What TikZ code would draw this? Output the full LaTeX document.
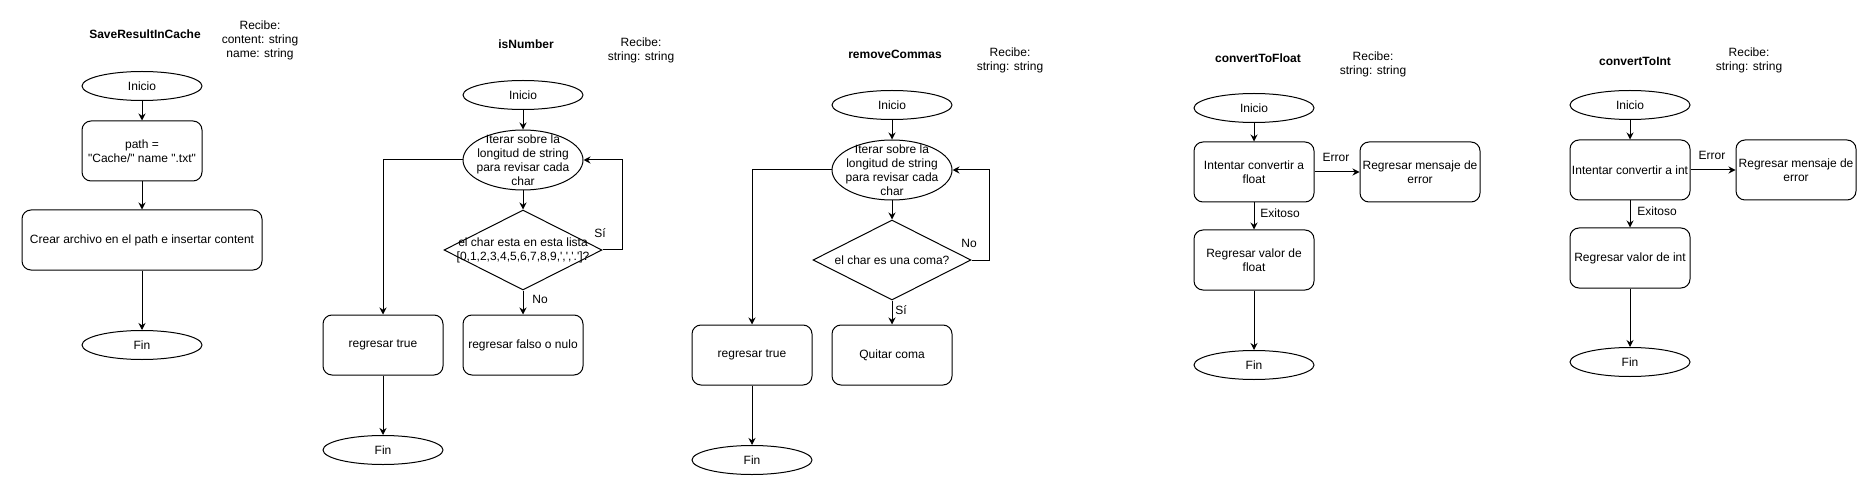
\documentclass[tikz,border=0pt]{standalone}
\usepackage{fontspec}
\setmainfont{Liberation Sans}
\usetikzlibrary{shapes.geometric,arrows.meta}

\begin{document}
\begin{tikzpicture}[x=1pt,y=-1pt,line width=1pt,
        font=\fontsize{12}{14}\selectfont,
        every node/.style={align=center},
        caja/.style={draw,rounded corners=9pt,minimum width=120pt,minimum height=60pt,inner sep=0pt},
        elipse/.style={draw,ellipse,minimum width=120pt,minimum height=29pt,inner sep=0pt},
        ciclo/.style={draw,ellipse,minimum width=120pt,minimum height=60pt,inner sep=0pt},
        decision/.style={draw,diamond,minimum width=158pt,minimum height=80pt,inner sep=0pt},
        titulo/.style={font=\fontsize{12}{14}\selectfont\bfseries},
        flecha/.style={-{Stealth[length=7pt,width=7pt]}}]
        \useasboundingbox (0,0) rectangle (1867,486);
        \node[titulo] (tituloA) at (145,34) {SaveResultInCache};
        \node (recibeA) at (260,40) {Recibe:\\content: string\\name: string};
        \node[elipse] (inicioA) at (142,86) {Inicio};
        \node[caja] (pathA) at (142,151) {path =\\\textquotedbl Cache/\textquotedbl\ name \textquotedbl.txt\textquotedbl};
        \node[caja,minimum width=240pt] (crearA) at (142,240) {Crear archivo en el path e insertar content};
        \node[elipse] (finA) at (142,345) {Fin};
        \draw[flecha] (inicioA)--(pathA);
        \draw[flecha] (pathA)--(crearA);
        \draw[flecha] (crearA)--(finA);
        \node[titulo] (tituloB) at (526,44) {isNumber};
        \node (recibeB) at (641,50) {Recibe:\\string: string};
        \node[elipse] (inicioB) at (523,95) {Inicio};
        \node[ciclo,label={center:{Iterar sobre la\\longitud de string\\para revisar cada\\char}}] (iterB) at (523,160) {};
        \node[decision,label={center:{el char esta en esta lista\\{[}0,1,2,3,4,5,6,7,8,9,\textquotesingle,\textquotesingle,\textquotesingle.\textquotesingle]?}}] (decB) at (523,250) {};
        \node[caja] (trueB) at (383,345) {regresar true};
        \node[caja] (falsoB) at (523,345) {regresar falso o nulo};
        \node[elipse] (finB) at (383,450) {Fin};
        \node (siB) at (600,233) {Sí};
        \node (noB) at (540,299) {No};
        \draw[flecha] (inicioB)--(iterB);
        \draw[flecha] (iterB)--(decB);
        \draw[flecha] (decB.east)--++(20,0)|-(iterB.east);
        \draw[flecha] (iterB.west)-|(trueB.north);
        \draw[flecha] (decB.south)--(falsoB.north);
        \draw[flecha] (trueB)--(finB);
        \node[titulo] (tituloC) at (895,54) {removeCommas};
        \node (recibeC) at (1010,60) {Recibe:\\string: string};
        \node[elipse] (inicioC) at (892,105) {Inicio};
        \node[ciclo,label={center:{Iterar sobre la\\longitud de string\\para revisar cada\\char}}] (iterC) at (892,170) {};
        \node[decision,label={center:{el char es una coma?}}] (decC) at (892,260) {};
        \node[caja] (trueC) at (752,355) {regresar true};
        \node[caja] (quitarC) at (892,355) {Quitar coma};
        \node[elipse] (finC) at (752,460) {Fin};
        \node (noC) at (969,243) {No};
        \node (siC) at (901,310) {Sí};
        \draw[flecha] (inicioC)--(iterC);
        \draw[flecha] (iterC)--(decC);
        \draw[flecha] (decC.east)--++(18,0)|-(iterC.east);
        \draw[flecha] (iterC.west)-|(trueC.north);
        \draw[flecha] (decC.south)--(quitarC.north);
        \draw[flecha] (trueC)--(finC);
        \node[titulo] (tituloD) at (1258,58) {convertToFloat};
        \node (recibeD) at (1373,64) {Recibe:\\string: string};
        \node[elipse] (inicioD) at (1254,108) {Inicio};
        \node[caja] (intentarD) at (1254,172) {Intentar convertir a\\float};
        \node[caja] (errorD) at (1420,172) {Regresar mensaje de\\error};
        \node[caja] (valorD) at (1254,260) {Regresar valor de\\float};
        \node[elipse] (finD) at (1254,365) {Fin};
        \node (errD) at (1336,157) {Error};
        \node (exitoD) at (1280,213) {Exitoso};
        \draw[flecha] (inicioD)--(intentarD);
        \draw[flecha] (intentarD)--(errorD);
        \draw[flecha] (intentarD)--(valorD);
        \draw[flecha] (valorD)--(finD);
        \node[titulo] (tituloE) at (1635,61) {convertToInt};
        \node (recibeE) at (1749,60) {Recibe:\\string: string};
        \node[elipse] (inicioE) at (1630,105) {Inicio};
        \node[caja] (intentarE) at (1630,170) {Intentar convertir a int};
        \node[caja] (errorE) at (1796,170) {Regresar mensaje de\\error};
        \node[caja] (valorE) at (1630,258) {Regresar valor de int};
        \node[elipse] (finE) at (1630,362) {Fin};
        \node (errE) at (1712,155) {Error};
        \node (exitoE) at (1657,211) {Exitoso};
        \draw[flecha] (inicioE)--(intentarE);
        \draw[flecha] (intentarE)--(errorE);
        \draw[flecha] (intentarE)--(valorE);
        \draw[flecha] (valorE)--(finE);
    \end{tikzpicture}
\end{document}
